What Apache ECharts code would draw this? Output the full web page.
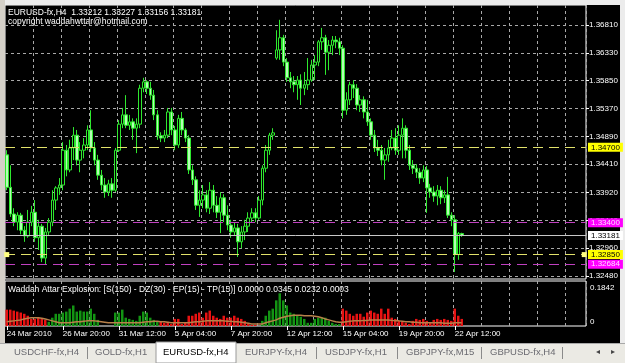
<!DOCTYPE html>
<html>
<head>
<meta charset="utf-8">
<script src="https://cdn.jsdelivr.net/npm/echarts@6/dist/echarts.min.js"></script>
<style>
  html, body { margin: 0; padding: 0; background: #ebeae4; }
  #chart { width: 625px; height: 363px; }
</style>
</head>
<body>
<div id="chart"></div>
<script>
// EURUSD-fx H4 candles (24 Mar 2010 .. 22 Apr 2010)
const opens = [
  1.3457, 1.3401, 1.3355, 1.3341, 1.3353, 1.3327, 1.3317, 1.3341, 1.3358, 1.3314,
  1.3334, 1.3279, 1.3324, 1.3341, 1.3379, 1.3400, 1.3405, 1.3465, 1.3431, 1.3469,
  1.3491, 1.3448, 1.3465, 1.3474, 1.3500, 1.3469, 1.3448, 1.3422, 1.3405, 1.3393,
  1.3407, 1.3396, 1.3465, 1.3510, 1.3526, 1.3508, 1.3514, 1.3503, 1.3510, 1.3572,
  1.3583, 1.3572, 1.3560, 1.3526, 1.3490, 1.3486, 1.3491, 1.3531, 1.3500, 1.3474,
  1.3520, 1.3500, 1.3486, 1.3431, 1.3414, 1.3370, 1.3379, 1.3388, 1.3365, 1.3396,
  1.3370, 1.3358, 1.3383, 1.3353, 1.3336, 1.3324, 1.3331, 1.3307, 1.3324, 1.3334,
  1.3348, 1.3357, 1.3348, 1.3379, 1.3434, 1.3465, 1.3491, 1.3624, 1.3638, 1.3659,
  1.3617, 1.3590, 1.3583, 1.3578, 1.3586, 1.3572, 1.3578, 1.3586, 1.3612, 1.3617,
  1.3652, 1.3659, 1.3634, 1.3646, 1.3655, 1.3652, 1.3641, 1.3534, 1.3552, 1.3578,
  1.3572, 1.3543, 1.3552, 1.3531, 1.3514, 1.3491, 1.3469, 1.3465, 1.3448, 1.3457,
  1.3469, 1.3486, 1.3465, 1.3491, 1.3503, 1.3465, 1.3439, 1.3434, 1.3427, 1.3417,
  1.3431, 1.3400, 1.3393, 1.3386, 1.3396, 1.3383, 1.3388, 1.3353, 1.3345, 1.3285,
  1.33212
];
const closes = [
  1.3401, 1.3355, 1.3341, 1.3353, 1.3327, 1.3317, 1.3341, 1.3358, 1.3314, 1.3334,
  1.3279, 1.3324, 1.3341, 1.3379, 1.3400, 1.3405, 1.3465, 1.3431, 1.3469, 1.3491,
  1.3448, 1.3465, 1.3474, 1.3500, 1.3469, 1.3448, 1.3422, 1.3405, 1.3393, 1.3407,
  1.3396, 1.3465, 1.3510, 1.3526, 1.3508, 1.3514, 1.3503, 1.3510, 1.3572, 1.3583,
  1.3572, 1.3560, 1.3526, 1.3490, 1.3486, 1.3491, 1.3531, 1.3500, 1.3474, 1.3520,
  1.3500, 1.3486, 1.3431, 1.3414, 1.3370, 1.3379, 1.3388, 1.3365, 1.3396, 1.3370,
  1.3358, 1.3383, 1.3353, 1.3336, 1.3324, 1.3331, 1.3307, 1.3324, 1.3334, 1.3348,
  1.3357, 1.3348, 1.3379, 1.3434, 1.3465, 1.3491, 1.3495, 1.3638, 1.3659, 1.3617,
  1.3590, 1.3583, 1.3578, 1.3586, 1.3572, 1.3578, 1.3586, 1.3612, 1.3617, 1.3652,
  1.3659, 1.3634, 1.3646, 1.3655, 1.3652, 1.3641, 1.3534, 1.3552, 1.3578, 1.3572,
  1.3543, 1.3552, 1.3531, 1.3514, 1.3491, 1.3469, 1.3465, 1.3448, 1.3457, 1.3469,
  1.3486, 1.3465, 1.3491, 1.3503, 1.3465, 1.3439, 1.3434, 1.3427, 1.3417, 1.3431,
  1.3400, 1.3393, 1.3386, 1.3396, 1.3383, 1.3388, 1.3353, 1.3345, 1.3285, 1.33212,
  1.33181
];
const highs = [
  1.3465, 1.3439, 1.3365, 1.3358, 1.3357, 1.3334, 1.3362, 1.3369, 1.3379, 1.3345,
  1.3338, 1.3331, 1.3348, 1.3396, 1.3403, 1.3417, 1.3479, 1.3474, 1.3483, 1.3505,
  1.3500, 1.3479, 1.3486, 1.3508, 1.3534, 1.3479, 1.3457, 1.3431, 1.3417, 1.3414,
  1.3417, 1.3469, 1.3517, 1.3538, 1.3560, 1.3526, 1.3520, 1.3520, 1.3578, 1.3590,
  1.3586, 1.3583, 1.3569, 1.3534, 1.3496, 1.3500, 1.3538, 1.3538, 1.3507, 1.3526,
  1.3531, 1.3503, 1.3491, 1.3439, 1.3420, 1.3396, 1.3405, 1.3396, 1.3410, 1.3405,
  1.3386, 1.3393, 1.3389, 1.3370, 1.3345, 1.3341, 1.3338, 1.3334, 1.3345, 1.3358,
  1.3365, 1.3365, 1.3386, 1.3439, 1.3474, 1.3495, 1.3503, 1.3672, 1.3690, 1.3664,
  1.3624, 1.3600, 1.3593, 1.3593, 1.3596, 1.3600, 1.3624, 1.3621, 1.3629, 1.3655,
  1.3676, 1.3664, 1.3655, 1.3662, 1.3662, 1.3659, 1.3646, 1.3565, 1.3583, 1.3586,
  1.3579, 1.3560, 1.3558, 1.3552, 1.3520, 1.3500, 1.3483, 1.3474, 1.3469, 1.3483,
  1.3500, 1.3503, 1.3508, 1.3520, 1.3508, 1.3474, 1.3448, 1.3441, 1.3434, 1.3439,
  1.3438, 1.3407, 1.3403, 1.3405, 1.3403, 1.3396, 1.3419, 1.3358, 1.3353, 1.3324,
  1.33227
];
const lows = [
  1.3396, 1.3350, 1.3334, 1.3327, 1.3320, 1.3307, 1.3314, 1.3334, 1.3307, 1.3293,
  1.3272, 1.3267, 1.3317, 1.3334, 1.3362, 1.3388, 1.3396, 1.3420, 1.3427, 1.3448,
  1.3439, 1.3427, 1.3451, 1.3465, 1.3462, 1.3439, 1.3414, 1.3396, 1.3383, 1.3386,
  1.3383, 1.3393, 1.3462, 1.3503, 1.3503, 1.3500, 1.3483, 1.3460, 1.3503, 1.3565,
  1.3562, 1.3552, 1.3517, 1.3483, 1.3479, 1.3479, 1.3486, 1.3491, 1.3465, 1.3469,
  1.3491, 1.3479, 1.3424, 1.3405, 1.3362, 1.3350, 1.3365, 1.3358, 1.3355, 1.3358,
  1.3348, 1.3322, 1.3341, 1.3327, 1.3314, 1.3317, 1.3281, 1.3296, 1.3310, 1.3324,
  1.3341, 1.3341, 1.3345, 1.3370, 1.3427, 1.3457, 1.3483, 1.3621, 1.3621, 1.3610,
  1.3583, 1.3572, 1.3565, 1.3552, 1.3543, 1.3560, 1.3569, 1.3583, 1.3586, 1.3610,
  1.3638, 1.3595, 1.3603, 1.3629, 1.3641, 1.3629, 1.3520, 1.3526, 1.3543, 1.3555,
  1.3534, 1.3531, 1.3520, 1.3507, 1.3483, 1.3462, 1.3455, 1.3439, 1.3414, 1.3445,
  1.3465, 1.3457, 1.3457, 1.3451, 1.3451, 1.3431, 1.3424, 1.3417, 1.3407, 1.3410,
  1.3357, 1.3383, 1.3376, 1.3370, 1.3372, 1.3374, 1.3348, 1.3334, 1.3255, 1.3276,
  1.33156
];

// Waddah Attar Explosion histogram + explosion line
const waeBars = [
  0.067, 0.067, 0.063, 0.059, 0.055, 0.050, 0.042, 0.029, 0.029, 0.034,
  0.029, 0.025, 0.017, 0.034, 0.050, 0.050, 0.055, 0.059, 0.071, 0.084,
  0.059, 0.063, 0.059, 0.059, 0.071, 0.050, 0.025, 0, 0, 0,
  0, 0.055, 0.055, 0.067, 0.034, 0.029, 0.025, 0.021, 0.042, 0.059,
  0.055, 0.034, 0.025, 0.017, 0.017, 0.013, 0.017, 0.008, 0.029, 0.029,
  0.008, 0.013, 0.042, 0.042, 0.050, 0.055, 0.034, 0.055, 0.063, 0.042,
  0.034, 0.029, 0.042, 0.034, 0.034, 0.042, 0.034, 0.029, 0.021, 0.008,
  0.004, 0.004, 0, 0.021, 0.042, 0.063, 0.071, 0.105, 0.134, 0.105,
  0.084, 0.055, 0.050, 0.042, 0.038, 0.029, 0.013, 0.013, 0.029, 0.034,
  0.034, 0.034, 0.021, 0.013, 0.008, 0.008, 0.071, 0.063, 0.050, 0.042,
  0.050, 0.050, 0.038, 0.055, 0.063, 0.055, 0.050, 0.071, 0.050, 0.071,
  0.034, 0.029, 0.021, 0.017, 0.013, 0.008, 0.021, 0.029, 0.025, 0.029,
  0.021, 0.013, 0.025, 0.029, 0.025, 0.029, 0.025, 0.021, 0.071, 0.042,
  0.029
];
// G = trend up (green), R = trend down (red)
const waeTrend = (
  'RRRRRRRRRRRR' +
  'GGGGGGGGGGGGGGGGGGGGGGGGGGGGGGGG' +
  'RRRRRRRRRRRRRRRRRRRRRRRRRRRRR' +
  'GGGGGGGGGGGGGGGGGGGGGGG' +
  'RRRRRRRRRRRRRRRRRRRRRRRRRRRRRRRRRRR'
).split('');
const waeLine = [
  0.017, 0.019, 0.021, 0.023, 0.025, 0.029, 0.032, 0.034, 0.034, 0.034,
  0.032, 0.029, 0.025, 0.021, 0.017, 0.013, 0.013, 0.013, 0.013, 0.015,
  0.017, 0.017, 0.019, 0.021, 0.021, 0.021, 0.019, 0.017, 0.015, 0.013,
  0.013, 0.013, 0.013, 0.013, 0.013, 0.013, 0.013, 0.013, 0.013, 0.015,
  0.017, 0.017, 0.019, 0.019, 0.017, 0.017, 0.015, 0.013, 0.013, 0.013,
  0.013, 0.013, 0.013, 0.015, 0.017, 0.017, 0.019, 0.021, 0.021, 0.021,
  0.021, 0.021, 0.021, 0.019, 0.019, 0.017, 0.017, 0.015, 0.013, 0.011,
  0.008, 0.008, 0.008, 0.008, 0.013, 0.017, 0.021, 0.025, 0.032, 0.036,
  0.040, 0.042, 0.044, 0.044, 0.044, 0.042, 0.042, 0.042, 0.040, 0.038,
  0.034, 0.029, 0.025, 0.021, 0.017, 0.015, 0.015, 0.017, 0.019, 0.021,
  0.021, 0.021, 0.023, 0.023, 0.025, 0.025, 0.025, 0.025, 0.025, 0.025,
  0.023, 0.021, 0.021, 0.019, 0.017, 0.017, 0.015, 0.015, 0.013, 0.013,
  0.013, 0.013, 0.013, 0.013, 0.013, 0.011, 0.011, 0.011, 0.013, 0.013,
  0.013
];

// axes
const slotCount = 166; // chart keeps empty space to the right of the last bar
const dateTickIndex = [0, 16, 32, 48, 64, 80, 96, 112, 128];
const dateTickText = ['24 Mar 2010', '26 Mar 20:00', '31 Mar 12:00', '5 Apr 04:00', '7 Apr 20:00',
  '12 Apr 12:00', '15 Apr 04:00', '19 Apr 20:00', '22 Apr 12:00'];
const priceTicks = [1.32480, 1.32960, 1.33440, 1.33920, 1.34410, 1.34890, 1.35370, 1.35850, 1.36330, 1.36810];
const waeTicks = [0, 0.1842];

// horizontal levels drawn on the chart
const yellowLevels = [1.34700, 1.32850];
const magentaLevels = [1.33400, 1.32684];
const bidLevel = 1.33181;
// small yellow arrow objects sitting on the 1.32850 level (first and last slot)
const arrowMarks = [[0, 1.32850], [165, 1.32850]];

const tabNames = ['USDCHF-fx,H4', 'GOLD-fx,H1', 'EURUSD-fx,H4', 'EURJPY-fx,H4', 'USDJPY-fx,H1', 'GBPJPY-fx,M15', 'GBPUSD-fx,H4'];
const tabLeft = [14, 95, 163, 245, 325, 406, 490];
const activeTab = 2;

const FONT = "'Liberation Sans', Arial, sans-serif";
const slots = Array.from({ length: slotCount }, (_, i) => String(i));
const candles = opens.map((o, i) => [o, closes[i], lows[i], highs[i]]);
const gridDash = { color: '#a8a8a8', width: 1, type: [3, 3] };

const levelLine = (v, color, bg, fg, dash) => ({
  yAxis: v,
  lineStyle: { color: color, type: dash, width: 1 },
  label: { backgroundColor: bg, color: fg },
});

const tabGraphics = [];
tabGraphics.push({ type: 'rect', shape: { x: 0, y: 343, width: 625, height: 20 }, style: { fill: '#ebeae4' } });
tabGraphics.push({ type: 'line', shape: { x1: 0, y1: 343.5, x2: 625, y2: 343.5 }, style: { stroke: '#a8a8a8' } });
tabGraphics.push({ type: 'rect', shape: { x: 156, y: 342, width: 80, height: 21 }, style: { fill: '#ffffff', stroke: '#9a9a9a' } });
[87, 316, 397, 481, 562].forEach((x) => {
  tabGraphics.push({ type: 'line', shape: { x1: x + 0.5, y1: 347, x2: x + 0.5, y2: 359 }, style: { stroke: '#8a8a8a' } });
});
tabNames.forEach((name, i) => {
  tabGraphics.push({
    type: 'text', x: tabLeft[i], y: 352,
    style: { text: name, fill: i === activeTab ? '#000' : '#6a6a70', font: '9.5px ' + FONT, verticalAlign: 'middle' },
  });
});
tabGraphics.push({ type: 'text', x: 596, y: 352, style: { text: '◂', fill: '#444', font: '8px ' + FONT, verticalAlign: 'middle' } });
tabGraphics.push({ type: 'text', x: 611, y: 352, style: { text: '▸', fill: '#444', font: '8px ' + FONT, verticalAlign: 'middle' } });

const chart = echarts.init(document.getElementById('chart'), null, { renderer: 'canvas' });
chart.setOption({
  animation: false,
  backgroundColor: '#000000',
  textStyle: { fontFamily: FONT },
  grid: [
    { left: 5, top: 5, width: 581, height: 274, show: true, borderColor: '#ffffff', borderWidth: 1, backgroundColor: 'transparent' },
    { left: 5, top: 281, width: 581, height: 45, show: true, borderColor: '#ffffff', borderWidth: 1, backgroundColor: 'transparent' },
  ],
  xAxis: [
    {
      type: 'category', gridIndex: 0, data: slots, boundaryGap: true,
      axisLine: { show: false }, axisTick: { show: false }, axisLabel: { show: false },
      splitLine: { show: true, interval: (i) => i > 0 && i % 8 === 0, lineStyle: gridDash },
    },
    {
      type: 'category', gridIndex: 1, data: slots, boundaryGap: true,
      axisLine: { show: false },
      axisTick: { show: true, alignWithLabel: true, interval: (i) => dateTickIndex.includes(i), length: 4, lineStyle: { color: '#ffffff' } },
      axisLabel: {
        interval: (i) => dateTickIndex.includes(i),
        formatter: (v) => dateTickText[dateTickIndex.indexOf(Number(v))] || '',
        color: '#ffffff', fontSize: 8, align: 'left', margin: 4,
      },
      splitLine: { show: true, interval: (i) => i > 0 && i % 8 === 0, lineStyle: gridDash },
    },
  ],
  yAxis: [
    {
      type: 'value', gridIndex: 0, position: 'right', min: 1.32429, max: 1.37155, scale: true,
      axisLine: { show: false },
      axisTick: { show: true, length: 3, customValues: priceTicks, lineStyle: { color: '#ffffff' } },
      axisLabel: { customValues: priceTicks, formatter: (v) => v.toFixed(5), color: '#ffffff', fontSize: 8, margin: 3 },
      splitLine: { show: true, lineStyle: gridDash },
    },
    {
      type: 'value', gridIndex: 1, position: 'right', min: 0, max: 0.1842,
      axisLine: { show: false }, axisTick: { show: false },
      axisLabel: {
        customValues: waeTicks, formatter: (v) => (v === 0 ? '0' : v.toFixed(4)),
        color: '#ffffff', fontSize: 8, margin: 4, padding: [3, 0, 0, 0],
        verticalAlignMinLabel: 'bottom', verticalAlignMaxLabel: 'top',
      },
      splitLine: { show: false },
    },
  ],
  series: [
    {
      type: 'candlestick', xAxisIndex: 0, yAxisIndex: 0, data: candles, barWidth: 3,
      itemStyle: { color: '#000000', color0: '#b4ffb4', borderColor: '#2ee82e', borderColor0: '#2ee82e', borderWidth: 1 },
      markLine: {
        silent: true, symbol: 'none', animation: false, precision: 5,
        label: {
          position: 'end', distance: 2, fontSize: 8, padding: [1, 3, 0, 3],
          formatter: (p) => Number(p.value).toFixed(5),
        },
        data: [
          ...yellowLevels.map((v) => levelLine(v, '#e2e26a', '#ffff00', '#000000', [10, 6])),
          ...magentaLevels.map((v) => levelLine(v, '#c040c0', '#ff00ff', '#ffd8ff', [10, 6])),
          levelLine(bidLevel, '#c8c8c8', '#ffffff', '#000000', 'solid'),
        ],
      },
      markPoint: {
        silent: true, symbol: 'rect', symbolSize: 5, animation: false,
        label: { show: false },
        itemStyle: { color: '#ffff80' },
        data: arrowMarks.map((c) => ({ coord: [String(c[0]), c[1]] })),
      },
    },
    {
      type: 'bar', xAxisIndex: 1, yAxisIndex: 1, barWidth: 2.5,
      data: waeBars.map((v, i) => ({ value: v, itemStyle: { color: waeTrend[i] === 'G' ? '#139413' : '#e81212' } })),
    },
    {
      type: 'line', xAxisIndex: 1, yAxisIndex: 1, data: waeLine, symbol: 'none',
      lineStyle: { color: '#b8804a', width: 1.5 },
    },
  ],
  graphic: [
    { type: 'rect', shape: { x: 0, y: 0, width: 625, height: 5 }, style: { fill: '#ececec' } },
    { type: 'rect', shape: { x: 0, y: 0, width: 5, height: 343 }, style: { fill: '#d4d0c8' } },
    { type: 'rect', shape: { x: 620, y: 0, width: 5, height: 343 }, style: { fill: '#ececec' } },
    { type: 'text', x: 8, y: 13, style: { text: 'EURUSD-fx,H4  1.33212 1.33227 1.33156 1.33181', fill: '#ffffff', font: '8.5px ' + FONT, verticalAlign: 'middle' } },
    { type: 'text', x: 8, y: 22, style: { text: 'copyright waddahwttar@hotmail.com', fill: '#ffffff', font: '8.5px ' + FONT, verticalAlign: 'middle' } },
    { type: 'text', x: 8, y: 290, style: { text: 'Waddah Attar Explosion: [S(150) - DZ(30) - EP(15) - TP(15)] 0.0000 0.0345 0.0232 0.0003', fill: '#ffffff', font: '8.5px ' + FONT, verticalAlign: 'middle' } },
    ...tabGraphics,
  ],
});
</script>
</body>
</html>
